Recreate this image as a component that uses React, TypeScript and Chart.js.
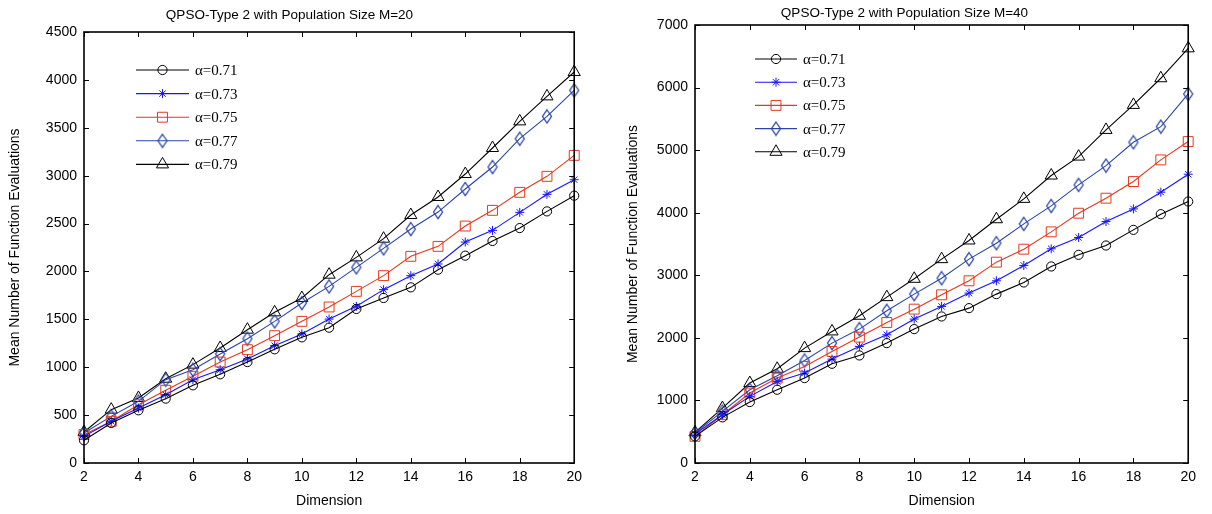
import React, { useEffect, useRef } from "react";
import { Chart, registerables } from "chart.js";
import { drawPoint } from "chart.js/helpers";

Chart.register(...registerables);

// ---------- data ----------
const dims = [2, 3, 4, 5, 6, 7, 8, 9, 10, 11, 12, 13, 14, 15, 16, 17, 18, 19, 20];
const seriesLabels = ["α=0.71", "α=0.73", "α=0.75", "α=0.77", "α=0.79"];

const m20_a071 = [237, 418, 550, 672, 811, 926, 1054, 1187, 1312, 1413, 1608, 1723, 1834, 2018, 2165, 2318, 2453, 2627, 2791];
const m20_a073 = [278, 435, 574, 713, 870, 974, 1086, 1225, 1347, 1503, 1636, 1810, 1956, 2078, 2307, 2429, 2617, 2805, 2958];
const m20_a075 = [296, 435, 609, 759, 905, 1054, 1183, 1329, 1479, 1629, 1792, 1956, 2158, 2262, 2474, 2638, 2826, 2993, 3212];
const m20_a077 = [313, 487, 644, 870, 974, 1138, 1298, 1479, 1670, 1844, 2043, 2241, 2443, 2620, 2861, 3090, 3386, 3619, 3891];
const m20_a079 = [324, 557, 679, 880, 1027, 1201, 1392, 1573, 1723, 1966, 2147, 2342, 2589, 2777, 3017, 3289, 3567, 3828, 4082];

const m40_a071 = [426, 729, 974, 1171, 1357, 1586, 1719, 1916, 2140, 2342, 2475, 2699, 2885, 3141, 3327, 3476, 3726, 3977, 4179];
const m40_a073 = [463, 772, 1065, 1304, 1437, 1661, 1863, 2049, 2300, 2502, 2715, 2912, 3157, 3423, 3604, 3859, 4061, 4328, 4615];
const m40_a075 = [426, 772, 1118, 1357, 1544, 1783, 2012, 2246, 2459, 2688, 2912, 3210, 3417, 3694, 3992, 4232, 4498, 4844, 5137];
const m40_a077 = [479, 825, 1171, 1395, 1639, 1916, 2140, 2433, 2699, 2954, 3258, 3513, 3822, 4109, 4445, 4753, 5126, 5376, 5898];
const m40_a079 = [490, 878, 1278, 1506, 1836, 2103, 2353, 2651, 2944, 3258, 3556, 3896, 4221, 4594, 4897, 5323, 5723, 6149, 6627];

const titleM20 = "QPSO-Type 2 with Population Size M=20";
const titleM40 = "QPSO-Type 2 with Population Size M=40";
const xTitle = "Dimension";
const yTitle = "Mean Number of Function Evaluations";

// ---------- styles ----------
const colors = ["#000000", "#1515ff", "#e4391d", "#2a44a8", "#000000"];
const styles = ["circle", "star", "rect", "diamond", "triangle"];
const radii = [4.6, 4.5, 7, 6, 7];
const SANS = '"Liberation Sans", Arial, sans-serif';
const SERIF = '"Liberation Serif", "Times New Roman", serif';

function makeDiamond(color: string) {
  const c = document.createElement("canvas");
  c.width = 12;
  c.height = 16;
  const g = c.getContext("2d")!;
  g.strokeStyle = color;
  g.lineWidth = 1.3;
  g.beginPath();
  g.moveTo(6, 1.5);
  g.lineTo(10.5, 8);
  g.lineTo(6, 14.5);
  g.lineTo(1.5, 8);
  g.closePath();
  g.stroke();
  return c;
}

const boxPlugin = {
  id: "matBox",
  afterDatasetsDraw(chart: any) {
    const { ctx, chartArea: ca, scales } = chart;
    ctx.save();
    ctx.strokeStyle = "#000";
    ctx.lineWidth = 1;
    const tl = 5;
    ctx.beginPath();
    for (const t of scales.x.ticks) {
      const px = Math.round(scales.x.getPixelForValue(t.value)) + 0.5;
      ctx.moveTo(px, ca.bottom);
      ctx.lineTo(px, ca.bottom - tl);
      ctx.moveTo(px, ca.top);
      ctx.lineTo(px, ca.top + tl);
    }
    for (const t of scales.y.ticks) {
      const py = Math.round(scales.y.getPixelForValue(t.value)) + 0.5;
      ctx.moveTo(ca.left, py);
      ctx.lineTo(ca.left + tl, py);
      ctx.moveTo(ca.right, py);
      ctx.lineTo(ca.right - tl, py);
    }
    ctx.stroke();
    ctx.lineWidth = 1.6;
    ctx.strokeRect(ca.left, ca.top, ca.right - ca.left, ca.bottom - ca.top);
    ctx.restore();
  },
};

const legendPlugin = {
  id: "matLegend",
  afterDraw(chart: any, _args: any, opts: any) {
    const { ctx, chartArea: ca } = chart;
    ctx.save();
    chart.data.datasets.forEach((ds: any, i: number) => {
      const y = ca.top + opts.dy + i * opts.step;
      const x0 = ca.left + opts.dx;
      ctx.strokeStyle = ds.borderColor;
      ctx.lineWidth = 1.1;
      ctx.beginPath();
      ctx.moveTo(x0, y);
      ctx.lineTo(x0 + opts.len, y);
      ctx.stroke();
      ctx.fillStyle = "rgba(0,0,0,0)";
      ctx.lineWidth = 1;
      drawPoint(ctx, { pointStyle: ds.pointStyle, radius: ds.pointRadius, borderWidth: 1, rotation: 0 } as any, x0 + opts.len / 2, y);
      ctx.fillStyle = "#000";
      ctx.font = `15px ${SERIF}`;
      ctx.textBaseline = "middle";
      ctx.textAlign = "left";
      ctx.fillText(ds.label, x0 + opts.tx, y + 1);
    });
    ctx.restore();
  },
};

type Spec = {
  series: number[][];
  title: string;
  yMax: number;
  yStep: number;
  yWidth: number;
  titlePad: { top: number; bottom: number };
  yTitlePad: number;
  legend: { dx: number; dy: number; step: number; len: number; tx: number };
};

function buildConfig(spec: Spec): any {
  const diamond = makeDiamond(colors[3]);
  const datasets = spec.series.map((s, i) => ({
    label: seriesLabels[i],
    data: dims.map((d, j) => ({ x: d, y: s[j] })),
    borderColor: colors[i],
    backgroundColor: "rgba(0,0,0,0)",
    borderWidth: 1.1,
    pointStyle: styles[i] === "diamond" ? diamond : styles[i],
    pointRadius: radii[i],
    pointHoverRadius: radii[i],
    pointBorderWidth: 1,
    pointBorderColor: colors[i],
    pointBackgroundColor: "rgba(0,0,0,0)",
    clip: false,
    tension: 0,
  }));
  const font = { family: SANS, size: 14 };
  return {
    type: "line",
    data: { datasets },
    options: {
      animation: false,
      responsive: false,
      events: [],
      layout: { padding: { left: 0, right: 9, top: 0, bottom: 0 } },
      plugins: {
        legend: { display: false },
        tooltip: { enabled: false },
        title: {
          display: true,
          text: spec.title,
          color: "#000",
          font: { family: SANS, size: 13.5, weight: "normal" },
          padding: spec.titlePad,
        },
        matLegend: spec.legend,
      },
      scales: {
        x: {
          type: "linear",
          min: 2,
          max: 20,
          ticks: { stepSize: 2, color: "#000", font, padding: 6, maxRotation: 0, callback: (v: any) => String(v) },
          grid: { display: false, drawTicks: false },
          border: { display: false },
          title: { display: true, text: xTitle, color: "#000", font, padding: { top: 0, bottom: 4.6 } },
          afterFit: (s: any) => {
            s.height = 51;
          },
        },
        y: {
          type: "linear",
          min: 0,
          max: spec.yMax,
          ticks: { stepSize: spec.yStep, color: "#000", font, padding: 7, callback: (v: any) => String(v) },
          grid: { display: false, drawTicks: false },
          border: { display: false },
          title: { display: true, text: yTitle, color: "#000", font, padding: { top: spec.yTitlePad, bottom: 0 } },
          afterFit: (s: any) => {
            s.width = spec.yWidth;
          },
        },
      },
    },
    plugins: [boxPlugin, legendPlugin],
  };
}

function Panel({ spec, left, width }: { spec: Spec; left: number; width: number }) {
  const ref = useRef<HTMLCanvasElement>(null);
  useEffect(() => {
    const chart = new Chart(ref.current!, buildConfig(spec));
    return () => chart.destroy();
  }, []);
  return (
    <canvas
      ref={ref}
      width={width}
      height={514}
      style={{ position: "absolute", left, top: 0, width, height: 514, display: "block" }}
    />
  );
}

const leftSpec: Spec = {
  series: [m20_a071, m20_a073, m20_a075, m20_a077, m20_a079],
  title: titleM20,
  yMax: 4500,
  yStep: 500,
  yWidth: 84,
  titlePad: { top: 7, bottom: 8.8 },
  yTitlePad: 6.6,
  legend: { dx: 52, dy: 38, step: 23.6, len: 53, tx: 59 },
};

const rightSpec: Spec = {
  series: [m40_a071, m40_a073, m40_a075, m40_a077, m40_a079],
  title: titleM40,
  yMax: 7000,
  yStep: 1000,
  yWidth: 79,
  titlePad: { top: 5, bottom: 3.8 },
  yTitlePad: 8.6,
  legend: { dx: 60, dy: 34, step: 23.2, len: 42, tx: 48 },
};

export default function App() {
  return (
    <div style={{ position: "fixed", left: 0, top: 0, width: 1212, height: 514, background: "#fff", overflow: "hidden" }}>
      <Panel spec={leftSpec} left={0} width={588} />
      <Panel spec={rightSpec} left={616} width={586} />
    </div>
  );
}
